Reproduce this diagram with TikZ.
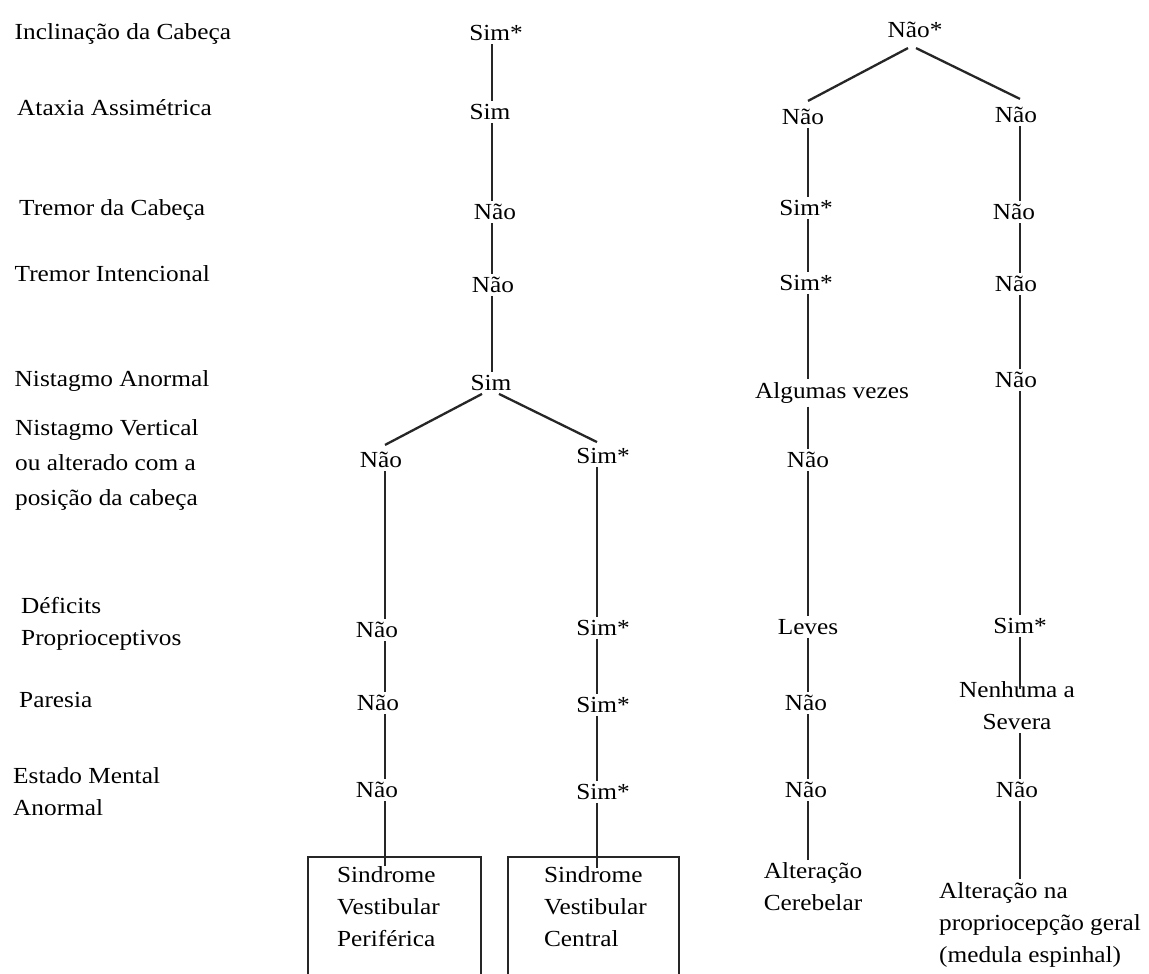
\documentclass[tikz,border=0pt]{standalone}
\usepackage{fontspec}
\setmainfont{Liberation Serif}[FakeStretch=1.1]
\usetikzlibrary{calc}
\newcommand\vlink[3]{\draw[link] (#1.south -| #3) -- (#2.north -| #3);}
\begin{document}
\begin{tikzpicture}[x=1pt,y=-1pt,
  txt/.style={inner sep=3pt, text=black, font=\fontsize{23}{32}\selectfont},
  lab/.style={txt, anchor=west, align=left},
  link/.style={draw=black!85, line width=2.3pt},
  outcome/.style={txt, draw=black!85, line width=2.2pt, anchor=north west, inner xsep=0pt, inner ysep=9pt}
]
\useasboundingbox (0,0) rectangle (1149,974);
\fill[white] (0,0) rectangle (1149,974);
\clip (0,0) rectangle (1149,974);

% column lines
\coordinate (L1) at (492,0);
\coordinate (L1a) at (385,0);
\coordinate (L1b) at (597,0);
\coordinate (L2) at (808,0);
\coordinate (L3) at (1020,0);

% row labels
\node[lab] (l1) at (11.5,34) {Inclinação da Cabeça};
\node[lab] (l2) at (14,108) {Ataxia Assimétrica};
\node[lab] (l3) at (16,210) {Tremor da Cabeça};
\node[lab] (l4) at (11.5,274) {Tremor Intencional};
\node[lab] (l5) at (11.5,381) {Nistagmo Anormal};
\node[lab, font=\fontsize{23}{35}\selectfont] (l6) at (12,465) {Nistagmo Vertical\\ou alterado com a\\posição da cabeça};
\node[lab] (l7) at (18,624) {Déficits\\Proprioceptivos};
\node[lab] (l8) at (16,700) {Paresia};
\node[lab] (l9) at (10,792) {Estado Mental\\Anormal};

% column 1
\node[txt] (c1r1) at (496,33) {Sim*};
\node[txt] (c1r2) at (490,112) {Sim};
\node[txt] (c1r3) at (495,212) {Não};
\node[txt] (c1r4) at (493,285) {Não};
\node[txt] (c1r5) at (491,383) {Sim};

\node[txt] (c1ar6) at (381,460) {Não};
\node[txt] (c1ar7) at (377,630) {Não};
\node[txt] (c1ar8) at (378,703) {Não};
\node[txt] (c1ar9) at (377,790) {Não};

\node[txt] (c1br6) at (603,456) {Sim*};
\node[txt] (c1br7) at (603,628) {Sim*};
\node[txt] (c1br8) at (603,705) {Sim*};
\node[txt] (c1br9) at (603,792) {Sim*};

\node[outcome] (box1) at (307,856) {\parbox[t][130pt][t]{173pt}{\raggedright\leftskip=29pt Sindrome\\Vestibular\\Periférica}};
\node[outcome] (box2) at (507,856) {\parbox[t][130pt][t]{171pt}{\raggedright\leftskip=36pt Sindrome\\Vestibular\\Central}};

% column 2
\node[txt] (c2r1) at (915,30) {Não*};
\node[txt] (c2r2) at (803,117) {Não};
\node[txt] (c2r3) at (806,208) {Sim*};
\node[txt] (c2r4) at (806,283) {Sim*};
\node[txt] (c2r5) at (832,393) {Algumas vezes};
\node[txt] (c2r6) at (808,460) {Não};
\node[txt] (c2r7) at (808,627) {Leves};
\node[txt] (c2r8) at (806,703) {Não};
\node[txt] (c2r9) at (806,790) {Não};
\node[txt, align=center] (c2end) at (813,887) {Alteração\\Cerebelar};

% column 3
\node[txt] (c3r2) at (1016,115) {Não};
\node[txt] (c3r3) at (1014,212) {Não};
\node[txt] (c3r4) at (1016,284) {Não};
\node[txt] (c3r5) at (1016,380) {Não};
\node[txt] (c3r7) at (1020,626) {Sim*};
\node[txt, align=center] (c3r8) at (1017,706) {Nenhuma a\\Severa};
\node[txt] (c3r9) at (1017,790) {Não};
\node[txt, anchor=west, align=left] (c3end) at (936,925) {Alteração na\\propriocepção geral\\(medula espinhal)};

% connectors: column 1
\vlink{c1r1}{c1r2}{L1}
\vlink{c1r2}{c1r3}{L1}
\vlink{c1r3}{c1r4}{L1}
\vlink{c1r4}{c1r5}{L1}
\draw[link] ($(c1r5.south)+(-9,0)$) -- ($(c1ar6.north -| L1a)+(0,-4)$);
\draw[link] ($(c1r5.south)+(8,0)$) -- ($(c1br6.north -| L1b)+(0,-3)$);
\vlink{c1ar6}{c1ar7}{L1a}
\vlink{c1ar7}{c1ar8}{L1a}
\vlink{c1ar8}{c1ar9}{L1a}
\draw[link] (c1ar9.south -| L1a) -- ($(box1.north -| L1a)+(0,10)$);
\vlink{c1br6}{c1br7}{L1b}
\vlink{c1br7}{c1br8}{L1b}
\vlink{c1br8}{c1br9}{L1b}
\draw[link] (c1br9.south -| L1b) -- ($(box2.north -| L1b)+(0,12)$);

% connectors: root of columns 2 and 3
\draw[link] ($(c2r1.south)+(-7,7)$) -- ($(c2r2.north -| L2)+(0,-5)$);
\draw[link] ($(c2r1.south)+(1,7)$) -- ($(c3r2.north -| L3)+(0,-5)$);

% column 2
\vlink{c2r2}{c2r3}{L2}
\vlink{c2r3}{c2r4}{L2}
\vlink{c2r4}{c2r5}{L2}
\vlink{c2r5}{c2r6}{L2}
\vlink{c2r6}{c2r7}{L2}
\vlink{c2r7}{c2r8}{L2}
\vlink{c2r8}{c2r9}{L2}
\vlink{c2r9}{c2end}{L2}

% column 3
\vlink{c3r2}{c3r3}{L3}
\vlink{c3r3}{c3r4}{L3}
\vlink{c3r4}{c3r5}{L3}
\vlink{c3r5}{c3r7}{L3}
\draw[link] (c3r7.south -| L3) -- ($(c3r8.north -| L3)+(0,10)$);
\vlink{c3r8}{c3r9}{L3}
\vlink{c3r9}{c3end}{L3}
\end{tikzpicture}
\end{document}
